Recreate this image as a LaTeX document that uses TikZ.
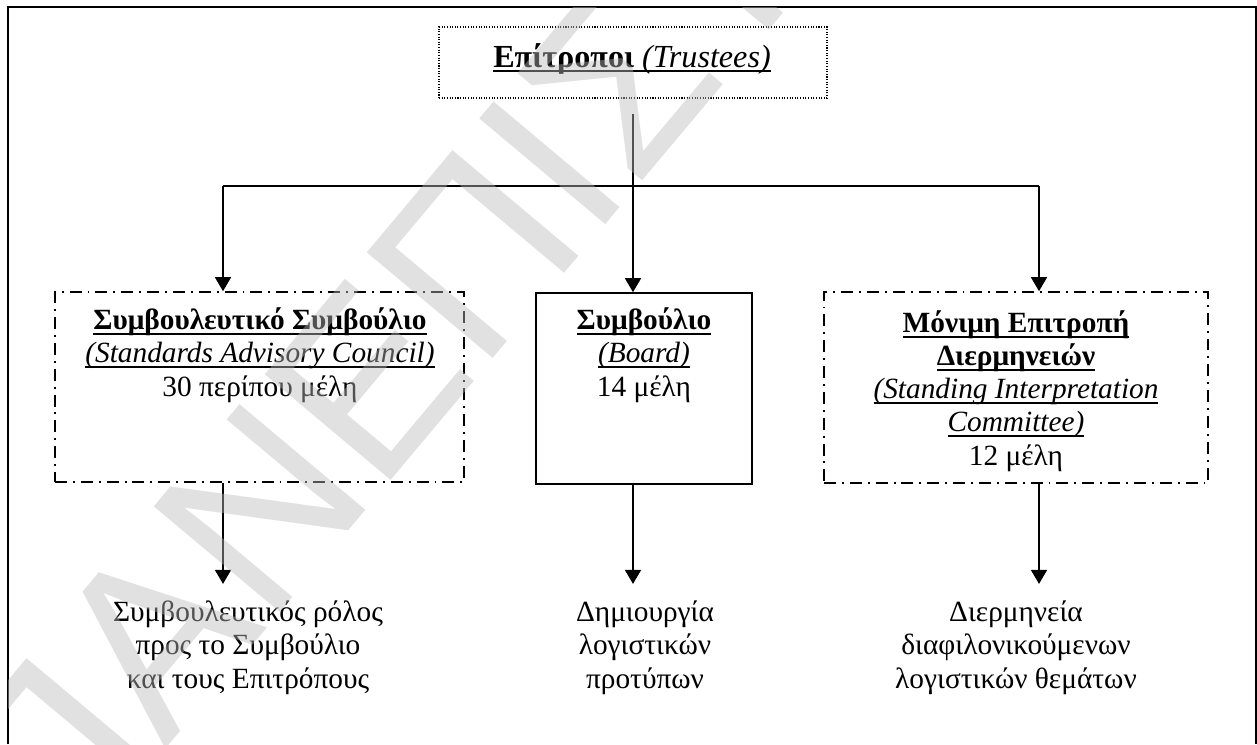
\documentclass[tikz,border=0pt]{standalone}
\usepackage{fontspec}
\setmainfont{Liberation Serif}
\newfontfamily\wmfont{Liberation Sans}
\usetikzlibrary{arrows.meta,fit}

% underline just below the baseline, as in a word processor
\newcommand\undl[1]{\leavevmode\setbox0\hbox{#1}\rlap{\rule[-2.8pt]{\wd0}{0.9pt}}\box0}

\tikzset{
  frame/.style={line width=1.2pt},
  link/.style={line width=0.85pt},
  arr/.style={link, -{Triangle[width=0.32cm,length=0.28cm]}},
  trustbox/.style={draw, line width=0.6pt, dash pattern=on 0.6pt off 0.9pt, inner sep=0pt},
  ddbox/.style={draw, line width=0.9pt, dash pattern=on 6.8pt off 3.4pt on 1.1pt off 3.4pt, inner sep=0pt},
  solidbox/.style={draw, line width=0.9pt, inner sep=0pt},
  txt/.style={font=\fontsize{16.7}{18.8}\selectfont, align=center, inner sep=0pt},
  title/.style={font=\fontsize{18.3}{22}\selectfont, inner sep=0pt},
  wmark/.style={font=\wmfont\fontsize{136}{136}\selectfont, text=black!27, text opacity=0.44, inner sep=0pt}
}

\begin{document}
\begin{tikzpicture}[x=0.02cm, y=-0.02cm]
    \useasboundingbox (0,0) rectangle (1257,744);
    \draw[frame] (8,744) -- (8,7) -- (1256,7) -- (1256,744);

    % top box
    \node[trustbox, fit={(439,27) (827,98)}] (trust) {};
    \node[title, anchor=base] (trustT) at (632,67) {\undl{\textbf{Επίτροποι} \textit{(Trustees)}}};

    % the three bodies (base = last line)
    \node[ddbox, fit={(55,292) (464,482)}] (sac) {};
    \node[txt, anchor=base] (sacT) at (260,396) {\undl{\textbf{Συμβουλευτικό Συμβούλιο}}\\
        \undl{\textit{(Standards Advisory Council)}}\\ 30 περίπου μέλη};
    \node[solidbox, fit={(536,293) (752,484)}] (brd) {};
    \node[txt, anchor=base] (brdT) at (644,396) {\undl{\textbf{Συμβούλιο}}\\
        \undl{\textit{(Board)}}\\ 14 μέλη};
    \node[ddbox, fit={(824,292) (1208,483)}] (sic) {};
    \node[txt, anchor=base] (sicT) at (1016,465) {\undl{\textbf{Μόνιμη Επιτροπή}}\\
        \undl{\textbf{Διερμηνειών}}\\ \undl{\textit{(Standing Interpretation}}\\
        \undl{\textit{Committee)}}\\ 12 μέλη};

    % roles
    \node[txt, anchor=base] (sacR) at (248,688) {Συμβουλευτικός ρόλος\\ προς το Συμβούλιο\\ και τους Επιτρόπους};
    \node[txt, anchor=base] (brdR) at (645,688) {Δημιουργία\\ λογιστικών\\ προτύπων};
    \node[txt, anchor=base] (sicR) at (1016,688) {Διερμηνεία\\ διαφιλονικούμενων\\ λογιστικών θεμάτων};

    % connectors
    \coordinate (jl) at (223,186);
    \coordinate (jr) at (1039,186);
    \draw[arr, shorten <=0.3cm] (trust.south) -- (trust.south |- brd.north);
    \draw[link] (jl) -- (jr);
    \draw[arr] (jl) -- (jl |- sac.north);
    \draw[arr] (jr) -- (jr |- sic.north);
    \draw[arr, shorten >=0.34cm] (jl |- sac.south) -- (jl |- sacR.north);
    \draw[arr, shorten >=0.34cm] (trust.south |- brd.south) -- (trust.south |- brdR.north);
    \draw[arr, shorten >=0.34cm] (jr |- sic.south) -- (jr |- sicR.north);

    % watermark over everything
    \begin{scope}
        \clip (8,7) rectangle (1256,744);
        \node[wmark, rotate=50, anchor=base west] (wm) at (54,882) {ΠΑΝΕΠΙΣΤΗΜΙΟ};
    \end{scope}
\end{tikzpicture}
\end{document}
